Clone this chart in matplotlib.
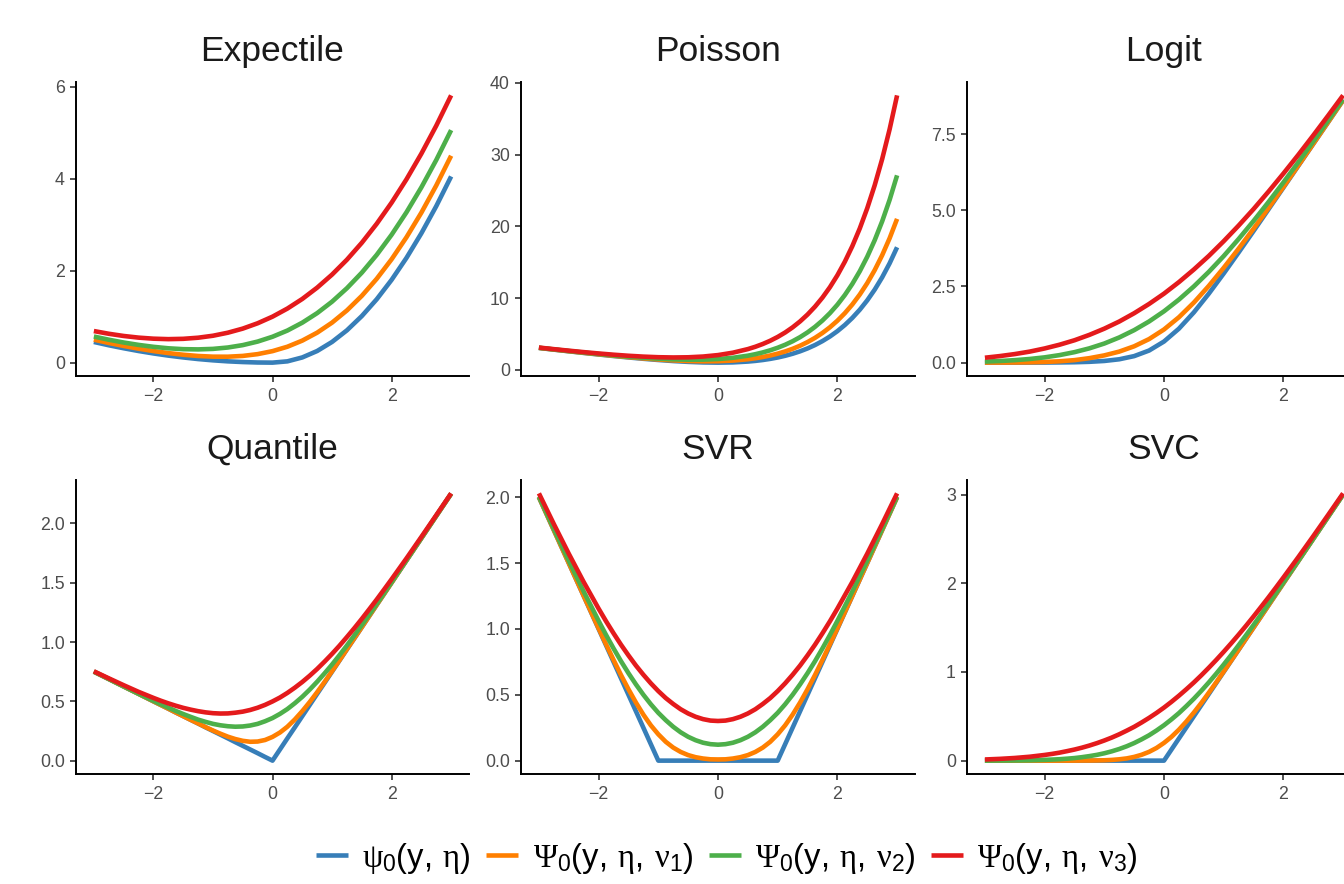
import matplotlib
matplotlib.use("Agg")
import matplotlib.pyplot as plt
from matplotlib.lines import Line2D

plt.rcParams['font.family'] = ['Liberation Sans', 'DejaVu Sans']
plt.rcParams['mathtext.fontset'] = 'custom'
plt.rcParams['mathtext.rm'] = 'Liberation Sans'
plt.rcParams['mathtext.it'] = 'Liberation Serif'
plt.rcParams['mathtext.cal'] = 'Liberation Serif'

# ---------------- data ----------------
# x grids (eta values at which each curve was read)
X = [-3.0, -2.75, -2.5, -2.25, -2.0, -1.75, -1.5, -1.25, -1.0, -0.75, -0.5, -0.25,
     0.0, 0.25, 0.5, 0.75, 1.0, 1.25, 1.5, 1.75, 2.0, 2.25, 2.5, 2.75, 3.0]
X_poisson = [-3.0, -2.75, -2.5, -2.25, -2.0, -1.75, -1.5, -1.25, -1.0, -0.75, -0.5, -0.25,
             0.0, 0.25, 0.5, 0.625, 0.75, 0.875, 1.0, 1.125, 1.25, 1.375, 1.5, 1.625, 1.75,
             1.875, 2.0, 2.125, 2.25, 2.375, 2.5, 2.625, 2.75, 2.875, 3.0]
X_fine = [-3.0, -2.75, -2.5, -2.25, -2.0, -1.875, -1.75, -1.625, -1.5, -1.375, -1.25, -1.125,
          -1.0, -0.875, -0.75, -0.625, -0.5, -0.375, -0.25, -0.125, 0.0, 0.125, 0.25, 0.375,
          0.5, 0.625, 0.75, 0.875, 1.0, 1.125, 1.25, 1.375, 1.5, 1.625, 1.75, 1.875,
          2.0, 2.25, 2.5, 2.75, 3.0]

panel_titles = ["Expectile", "Poisson", "Logit", "Quantile", "SVR", "SVC"]
series_labels = [r'$\psi_0(\mathrm{y},\:\eta)$',
                 r'$\mathcal{\Psi}_0(\mathrm{y},\:\eta,\:\nu_1)$',
                 r'$\mathcal{\Psi}_0(\mathrm{y},\:\eta,\:\nu_2)$',
                 r'$\mathcal{\Psi}_0(\mathrm{y},\:\eta,\:\nu_3)$']
series_colors = ["#377EB8", "#FF7F00", "#4DAF4A", "#E41A1C"]

expectile_psi0 = [0.450, 0.378, 0.313, 0.253, 0.200, 0.153, 0.113, 0.078, 0.050, 0.028, 0.013, 0.003,
                  0.000, 0.028, 0.113, 0.253, 0.450, 0.703, 1.013, 1.378, 1.800, 2.278, 2.813, 3.403, 4.050]
expectile_nu1 = [0.500, 0.428, 0.363, 0.304, 0.252, 0.208, 0.172, 0.145, 0.130, 0.129, 0.146, 0.185,
                 0.250, 0.346, 0.479, 0.652, 0.870, 1.136, 1.453, 1.823, 2.248, 2.727, 3.262, 3.853, 4.500]
expectile_nu2 = [0.568, 0.499, 0.438, 0.386, 0.344, 0.312, 0.293, 0.288, 0.299, 0.329, 0.381, 0.458,
                 0.563, 0.698, 0.869, 1.077, 1.326, 1.619, 1.957, 2.344, 2.781, 3.270, 3.812, 4.407, 5.057]
expectile_nu3 = [0.687, 0.628, 0.580, 0.544, 0.521, 0.511, 0.518, 0.542, 0.585, 0.651, 0.740, 0.856,
                 1.000, 1.176, 1.385, 1.631, 1.915, 2.239, 2.607, 3.020, 3.479, 3.987, 4.545, 5.153, 5.813]

poisson_psi0 = [3.050, 2.814, 2.582, 2.355, 2.135, 1.924, 1.723, 1.537, 1.368, 1.222, 1.107, 1.029,
                1.000, 1.034, 1.149, 1.243, 1.367, 1.524, 1.718, 1.955, 2.240, 2.580, 2.982, 3.453,
                4.005, 4.645, 5.389, 6.248, 7.238, 8.376, 9.682, 11.180, 12.893, 14.850, 17.086]
poisson_nu1 = [3.060, 2.827, 2.598, 2.376, 2.162, 1.958, 1.767, 1.593, 1.440, 1.316, 1.226, 1.182,
               1.197, 1.287, 1.474, 1.612, 1.785, 1.997, 2.254, 2.563, 2.929, 3.360, 3.866, 4.455,
               5.140, 5.932, 6.846, 7.899, 9.109, 10.496, 12.085, 13.902, 15.978, 18.346, 21.047]
poisson_nu2 = [3.075, 2.846, 2.623, 2.408, 2.203, 2.011, 1.835, 1.680, 1.552, 1.458, 1.409, 1.418,
               1.499, 1.675, 1.972, 2.176, 2.424, 2.722, 3.076, 3.493, 3.983, 4.555, 5.219, 5.989,
               6.878, 7.902, 9.078, 10.429, 11.975, 13.744, 15.765, 18.072, 20.703, 23.701, 27.114]
poisson_nu3 = [3.102, 2.881, 2.669, 2.467, 2.278, 2.107, 1.958, 1.839, 1.756, 1.721, 1.746, 1.850,
               2.054, 2.388, 2.887, 3.213, 3.599, 4.053, 4.585, 5.203, 5.921, 6.750, 7.707, 8.808,
               10.072, 11.521, 13.180, 15.077, 17.242, 19.712, 22.528, 25.736, 29.387, 33.541, 38.264]

logit_psi0 = [0.000, 0.000, 0.001, 0.002, 0.003, 0.007, 0.013, 0.027, 0.055, 0.110, 0.214, 0.397,
              0.693, 1.115, 1.649, 2.262, 2.925, 3.615, 4.318, 5.029, 5.743, 6.459, 7.176, 7.893, 8.610]
logit_nu1 = [0.002, 0.002, 0.004, 0.010, 0.022, 0.044, 0.082, 0.147, 0.238, 0.362, 0.536, 0.773,
             1.088, 1.490, 1.971, 2.517, 3.111, 3.740, 4.395, 5.072, 5.765, 6.468, 7.179, 7.894, 8.611]
logit_nu2 = [0.034, 0.053, 0.081, 0.120, 0.173, 0.247, 0.344, 0.469, 0.627, 0.826, 1.066, 1.351,
             1.685, 2.069, 2.501, 2.978, 3.497, 4.057, 4.649, 5.269, 5.913, 6.577, 7.256, 7.946, 8.644]
logit_nu3 = [0.161, 0.215, 0.281, 0.362, 0.465, 0.588, 0.734, 0.911, 1.115, 1.349, 1.621, 1.926,
             2.264, 2.643, 3.056, 3.501, 3.985, 4.498, 5.039, 5.611, 6.205, 6.820, 7.456, 8.107, 8.771]

quantile_psi0 = [0.750, 0.688, 0.625, 0.563, 0.500, 0.469, 0.438, 0.406, 0.375, 0.344, 0.313, 0.281,
                 0.250, 0.219, 0.188, 0.156, 0.125, 0.094, 0.063, 0.031, 0.000, 0.094, 0.188, 0.281,
                 0.375, 0.469, 0.563, 0.656, 0.750, 0.844, 0.938, 1.031, 1.125, 1.219, 1.313, 1.406,
                 1.500, 1.688, 1.875, 2.063, 2.250]
quantile_nu1 = [0.750, 0.688, 0.625, 0.563, 0.500, 0.469, 0.438, 0.406, 0.375, 0.344, 0.314, 0.283,
                0.254, 0.227, 0.202, 0.182, 0.167, 0.159, 0.161, 0.174, 0.200, 0.237, 0.286, 0.347,
                0.417, 0.494, 0.577, 0.664, 0.754, 0.846, 0.939, 1.032, 1.125, 1.219, 1.313, 1.406,
                1.500, 1.688, 1.875, 2.063, 2.250]
quantile_nu2 = [0.750, 0.688, 0.626, 0.564, 0.504, 0.475, 0.446, 0.419, 0.393, 0.369, 0.346, 0.327,
                0.310, 0.298, 0.290, 0.286, 0.288, 0.296, 0.310, 0.332, 0.359, 0.394, 0.435, 0.484,
                0.538, 0.599, 0.665, 0.736, 0.810, 0.889, 0.971, 1.056, 1.143, 1.231, 1.321, 1.412,
                1.504, 1.689, 1.876, 2.063, 2.250]
quantile_nu3 = [0.753, 0.694, 0.636, 0.580, 0.529, 0.505, 0.483, 0.463, 0.445, 0.430, 0.417, 0.407,
                0.400, 0.397, 0.398, 0.404, 0.413, 0.427, 0.446, 0.470, 0.499, 0.532, 0.571, 0.615,
                0.663, 0.716, 0.773, 0.835, 0.900, 0.969, 1.042, 1.117, 1.195, 1.276, 1.358, 1.443,
                1.529, 1.705, 1.886, 2.069, 2.253]

svr_psi0 = [2.000, 1.750, 1.500, 1.250, 1.000, 0.875, 0.750, 0.625, 0.500, 0.375, 0.250, 0.125,
            0.000, 0.000, 0.000, 0.000, 0.000, 0.000, 0.000, 0.000, 0.000, 0.000, 0.000, 0.000,
            0.000, 0.000, 0.000, 0.000, 0.000, 0.125, 0.250, 0.375, 0.500, 0.625, 0.750, 0.875,
            1.000, 1.250, 1.500, 1.750, 2.000]
svr_nu1 = [2.000, 1.750, 1.500, 1.251, 1.004, 0.883, 0.765, 0.650, 0.542, 0.441, 0.349, 0.268,
           0.200, 0.143, 0.099, 0.066, 0.042, 0.026, 0.016, 0.010, 0.009, 0.010, 0.016, 0.026,
           0.042, 0.066, 0.099, 0.143, 0.200, 0.268, 0.349, 0.441, 0.542, 0.650, 0.765, 0.883,
           1.004, 1.251, 1.500, 1.750, 2.000]
svr_nu2 = [2.004, 1.759, 1.518, 1.284, 1.061, 0.954, 0.852, 0.755, 0.664, 0.579, 0.500, 0.428,
           0.363, 0.307, 0.257, 0.215, 0.181, 0.155, 0.136, 0.125, 0.121, 0.125, 0.136, 0.155,
           0.181, 0.215, 0.257, 0.307, 0.363, 0.428, 0.500, 0.579, 0.664, 0.755, 0.852, 0.954,
           1.061, 1.284, 1.518, 1.759, 2.004]
svr_nu3 = [2.029, 1.796, 1.571, 1.356, 1.154, 1.058, 0.967, 0.880, 0.799, 0.722, 0.652, 0.587,
           0.528, 0.475, 0.430, 0.390, 0.358, 0.333, 0.315, 0.304, 0.301, 0.304, 0.315, 0.333,
           0.358, 0.390, 0.430, 0.475, 0.528, 0.587, 0.652, 0.722, 0.799, 0.880, 0.967, 1.058,
           1.154, 1.356, 1.571, 1.796, 2.029]

svc_psi0 = [0.000, 0.000, 0.000, 0.000, 0.000, 0.000, 0.000, 0.000, 0.000, 0.000, 0.000, 0.000,
            0.000, 0.000, 0.000, 0.000, 0.000, 0.000, 0.000, 0.000, 0.000, 0.125, 0.250, 0.375,
            0.500, 0.625, 0.750, 0.875, 1.000, 1.125, 1.250, 1.375, 1.500, 1.625, 1.750, 1.875,
            2.000, 2.250, 2.500, 2.750, 3.000]
svc_nu1 = [0.000, 0.000, 0.000, 0.000, 0.000, 0.000, 0.000, 0.000, 0.000, 0.001, 0.001, 0.002,
           0.004, 0.008, 0.015, 0.025, 0.042, 0.066, 0.099, 0.143, 0.200, 0.268, 0.349, 0.441,
           0.542, 0.650, 0.765, 0.883, 1.004, 1.127, 1.251, 1.376, 1.500, 1.625, 1.750, 1.875,
           2.000, 2.250, 2.500, 2.750, 3.000]
svc_nu2 = [0.000, 0.001, 0.002, 0.004, 0.009, 0.012, 0.016, 0.022, 0.029, 0.039, 0.051, 0.065,
           0.083, 0.105, 0.131, 0.162, 0.198, 0.240, 0.286, 0.340, 0.399, 0.465, 0.536, 0.615,
           0.698, 0.787, 0.881, 0.980, 1.083, 1.190, 1.301, 1.414, 1.529, 1.647, 1.766, 1.887,
           2.009, 2.254, 2.502, 2.751, 3.000]
svc_nu3 = [0.013, 0.020, 0.030, 0.044, 0.064, 0.076, 0.090, 0.107, 0.125, 0.146, 0.170, 0.197,
           0.227, 0.260, 0.297, 0.338, 0.381, 0.430, 0.482, 0.538, 0.598, 0.663, 0.732, 0.805,
           0.881, 0.962, 1.047, 1.135, 1.227, 1.322, 1.420, 1.521, 1.625, 1.732, 1.840, 1.951,
           2.064, 2.294, 2.530, 2.770, 3.013]

x_ticks = [-2, 0, 2]
y_ticks = {
    "Expectile": ([0, 2, 4, 6], ["0", "2", "4", "6"]),
    "Poisson": ([0, 10, 20, 30, 40], ["0", "10", "20", "30", "40"]),
    "Logit": ([0.0, 2.5, 5.0, 7.5], ["0.0", "2.5", "5.0", "7.5"]),
    "Quantile": ([0.0, 0.5, 1.0, 1.5, 2.0], ["0.0", "0.5", "1.0", "1.5", "2.0"]),
    "SVR": ([0.0, 0.5, 1.0, 1.5, 2.0], ["0.0", "0.5", "1.0", "1.5", "2.0"]),
    "SVC": ([0, 1, 2, 3], ["0", "1", "2", "3"]),
}

panel_data = {
    "Expectile": (X, [expectile_psi0, expectile_nu1, expectile_nu2, expectile_nu3]),
    "Poisson": (X_poisson, [poisson_psi0, poisson_nu1, poisson_nu2, poisson_nu3]),
    "Logit": (X, [logit_psi0, logit_nu1, logit_nu2, logit_nu3]),
    "Quantile": (X_fine, [quantile_psi0, quantile_nu1, quantile_nu2, quantile_nu3]),
    "SVR": (X_fine, [svr_psi0, svr_nu1, svr_nu2, svr_nu3]),
    "SVC": (X_fine, [svc_psi0, svc_nu1, svc_nu2, svc_nu3]),
}

# ---------------- layout ----------------
W, H = 1344, 884
fig = plt.figure(figsize=(W / 100, H / 100), dpi=100)
fig.patch.set_facecolor("white")

col_left = [76, 521, 967]
col_width = [393, 394, 394]
row_top = [82, 480]
panel_h = 294

for i, name in enumerate(panel_titles):
    r, c = divmod(i, 3)
    left = col_left[c] / W
    bottom = 1 - (row_top[r] + panel_h) / H
    ax = fig.add_axes([left, bottom, col_width[c] / W, panel_h / H])
    xs, series = panel_data[name]
    for ys, col in zip(series, series_colors):
        ax.plot(xs, ys, color=col, lw=3.3, solid_capstyle="butt", solid_joinstyle="round")
    ax.margins(x=0.05, y=0.05)
    ax.set_xticks(x_ticks)
    yt, yl = y_ticks[name]
    ax.set_yticks(yt)
    ax.set_yticklabels(yl)
    for s in ("top", "right"):
        ax.spines[s].set_visible(False)
    for s in ("left", "bottom"):
        ax.spines[s].set_linewidth(1.4)
        ax.spines[s].set_color("black")
    ax.tick_params(axis="both", direction="out", length=4, width=1.2, color="#333333",
                   labelsize=12.8, labelcolor="#4D4D4D")
    ax.tick_params(axis="x", pad=4.5)
    ax.tick_params(axis="y", pad=4)
    ax.set_title(name, fontsize=25.5, color="#1A1A1A", pad=15)
    ax.set_facecolor("white")

handles = [Line2D([0], [0], color=c, lw=3.3, solid_capstyle="butt") for c in series_colors]
fig.legend(handles, series_labels, loc="center", bbox_to_anchor=(727 / W, 1 - 858 / H),
           ncol=4, frameon=False, fontsize=23.5, handlelength=0.98, handletextpad=0.445,
           columnspacing=0.46, borderaxespad=0, borderpad=0)

fig.savefig("out.png", dpi=100, facecolor="white")
